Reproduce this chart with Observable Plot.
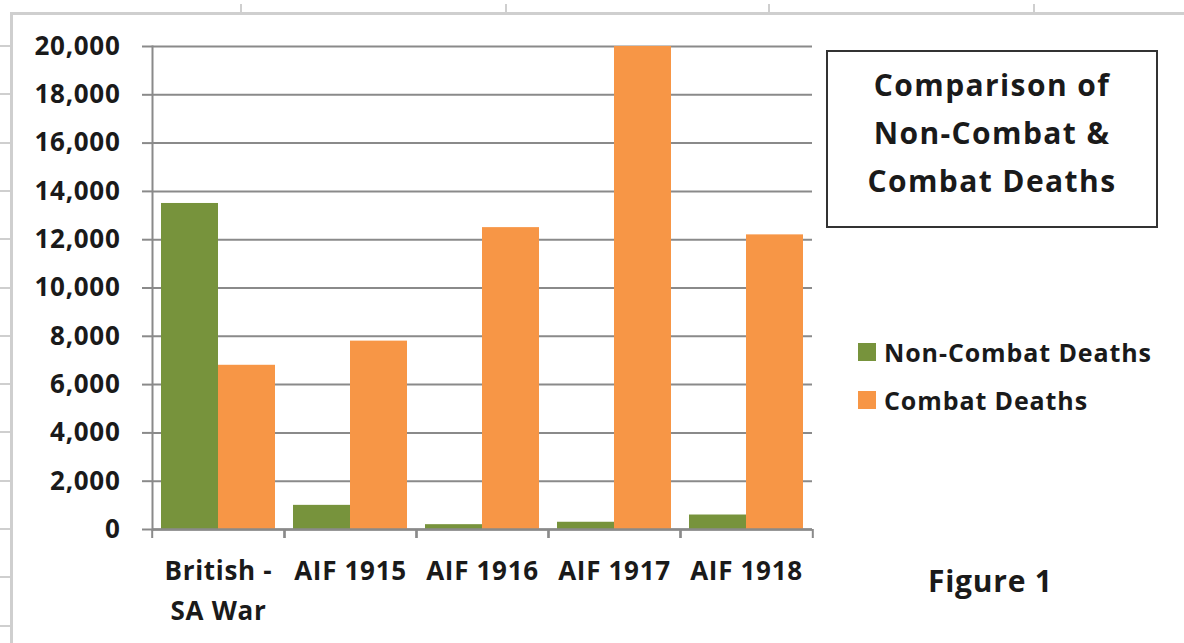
<!DOCTYPE html>
<html>
<head>
<meta charset="utf-8">
<script src="https://cdn.jsdelivr.net/npm/d3@7"></script>
<script src="https://cdn.jsdelivr.net/npm/@observablehq/plot@0.6"></script>
<style>
  html, body { margin: 0; padding: 0; background: #fff; }
  #wrap { position: relative; width: 1184px; height: 643px; overflow: hidden; font-family: "Open Sans", Lato, sans-serif; font-weight: bold; color: #1a1a1a; }
  #sheet { position: absolute; left: 10px; top: 12px; right: -5px; bottom: -5px; border-top: 3px solid #cfcfcf; border-left: 3px solid #cfcfcf; }
  .tk { position: absolute; background: #cfcfcf; }
  #chart { position: absolute; left: 0; top: 0; }
  #titlebox { position: absolute; left: 826px; top: 50px; width: 332px; height: 178px; border: 2px solid #333; text-align: center; font-size: 30px; letter-spacing: 1.4px; line-height: 48px; padding-top: 9px; box-sizing: border-box; }
  .leg { position: absolute; left: 858px; font-size: 25px; letter-spacing: 0.9px; display: flex; align-items: center; white-space: nowrap; }
  .sw { width: 18px; height: 18px; margin-right: 8px; }
  #fig { position: absolute; left: 928px; top: 560px; font-size: 30px; letter-spacing: 0.75px; }
</style>
</head>
<body>
<div id="wrap">
  <div id="sheet"></div>
  <div id="chart"></div>
  <div id="titlebox">Comparison of<br>Non-Combat &amp;<br>Combat Deaths</div>
  <div id="legend"></div>
  <div id="fig">Figure 1</div>
</div>
<script>
const categories = ["British -\nSA War", "AIF 1915", "AIF 1916", "AIF 1917", "AIF 1918"];
const series = ["Non-Combat Deaths", "Combat Deaths"];
const nonCombatDeaths = [13500, 1000, 200, 300, 600];
const combatDeaths = [6800, 7800, 12500, 20000, 12200];
const yTicks = [0, 2000, 4000, 6000, 8000, 10000, 12000, 14000, 16000, 18000, 20000];
const colors = ["#77933C", "#F79646"];

const data = categories.flatMap((c, i) => [
  {category: c, series: series[0], value: nonCombatDeaths[i]},
  {category: c, series: series[1], value: combatDeaths[i]}
]);

const W = 1184, H = 643, mL = 150, mR = 371, mT = 46, mB = 114;
const bw = (W - mL - mR) / categories.length;
const axisColor = "#8a8a8a";

const chart = Plot.plot({
  width: W, height: H,
  marginLeft: mL, marginRight: mR, marginTop: mT, marginBottom: mB,
  style: {fontFamily: "'Open Sans', Lato, sans-serif", fontWeight: "bold", fontSize: "26px", letterSpacing: "0.7px", color: "#1a1a1a", background: "transparent", overflow: "visible"},
  fx: {domain: categories, padding: 0, label: null},
  x: {domain: series, paddingInner: 0, paddingOuter: 0.15, axis: null},
  y: {domain: [0, 20000], axis: null},
  color: {domain: series, range: colors},
  marks: [
    Plot.gridY(yTicks, {stroke: axisColor, strokeOpacity: 1, strokeWidth: 2}),
    Plot.barY(data, {fx: "category", x: "series", y: "value", fill: "series"}),
    Plot.ruleY([0], {stroke: axisColor, strokeWidth: 2.5}),
    Plot.frame({anchor: "left", facetAnchor: "left", stroke: axisColor, strokeWidth: 2}),
    Plot.axisY(yTicks, {anchor: "left", tickSize: 10, tickPadding: 22, tickFormat: d3.format(","), stroke: axisColor, strokeWidth: 2, label: null, fill: "#1a1a1a"}),
    Plot.axisFx({anchor: "bottom", tickSize: 0, tickPadding: 22, lineHeight: 1.54, label: null, fill: "#1a1a1a"}),
    Plot.axisFx({anchor: "bottom", tickSize: 9, text: null, label: null, dx: -bw / 2, stroke: axisColor, strokeWidth: 2}),
    Plot.axisFx({anchor: "bottom", tickSize: 9, text: null, label: null, dx: bw / 2, stroke: axisColor, strokeWidth: 2})
  ]
});
document.getElementById("chart").appendChild(chart);

// legend
const legend = document.getElementById("legend");
series.forEach((s, i) => {
  const row = document.createElement("div");
  row.className = "leg";
  row.style.top = (335 + i * 48) + "px";
  row.innerHTML = `<div class="sw" style="background:${colors[i]}"></div><span>${s}</span>`;
  legend.appendChild(row);
});

// spreadsheet grid ticks (background decoration)
const wrap = document.getElementById("wrap");
[240, 505, 768, 1033].forEach(x => {
  const d = document.createElement("div"); d.className = "tk";
  Object.assign(d.style, {left: x + "px", top: "4px", width: "2px", height: "9px"});
  wrap.insertBefore(d, wrap.firstChild);
});
for (let y = 45; y < 643; y += 48.3) {
  const d = document.createElement("div"); d.className = "tk";
  Object.assign(d.style, {left: "0px", top: Math.round(y) + "px", width: "10px", height: "2px"});
  wrap.insertBefore(d, wrap.firstChild);
}
</script>
</body>
</html>
